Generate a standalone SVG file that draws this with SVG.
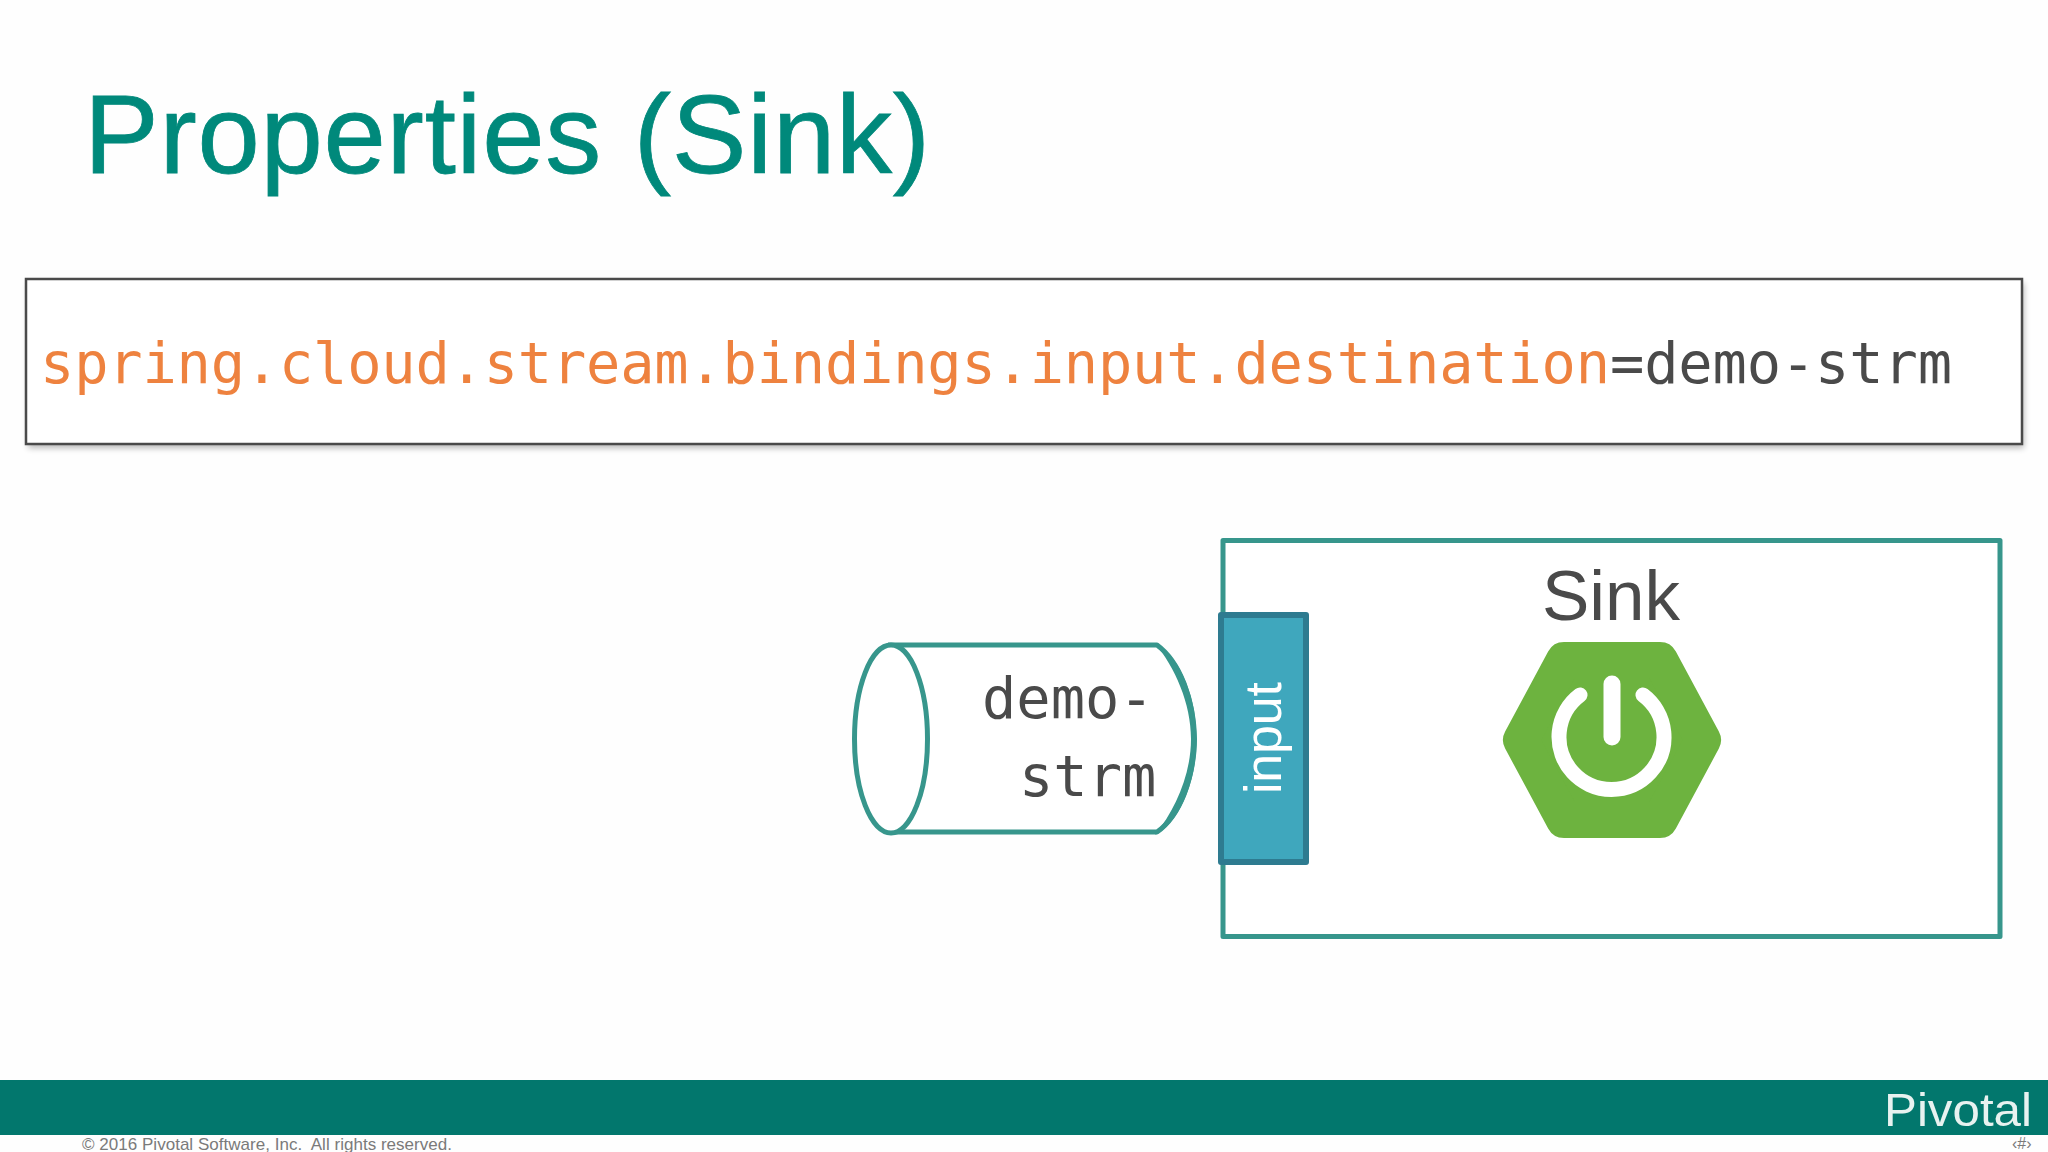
<svg xmlns="http://www.w3.org/2000/svg" width="2048" height="1152" viewBox="0 0 2048 1152">
<defs>
<style>
.sans{font-family:"Liberation Sans",Arial,sans-serif}
.mono{font-family:"DejaVu Sans Mono",monospace;font-size:57px}
.dark{fill:#4a4a4a}
.orange{fill:#ee823f}
.teal{stroke:#37968c;stroke-width:5;stroke-linejoin:round}
</style>
<filter id="soft" x="-2%" y="-10%" width="104%" height="120%"><feGaussianBlur stdDeviation="3"/></filter>
</defs>
<rect width="2048" height="1152" fill="#fefefe"/>
<text class="sans" x="84" y="173" font-size="112" fill="#00897b" stroke="#00897b" stroke-width="0.8" textLength="846">Properties (Sink)</text>
<g id="property-box">
<rect x="28" y="283" width="1996" height="165" fill="#000" opacity="0.28" filter="url(#soft)"/>
<rect x="26" y="279" width="1996" height="165" fill="#fff" stroke="#4a4a4a" stroke-width="2.5"/>
<text class="mono orange" x="40" y="383" textLength="1570">spring.cloud.stream.bindings.input.destination</text>
<text class="mono dark" x="1610" y="383" textLength="342">=demo-strm</text>
</g>
<g id="sink">
<rect x="1223" y="540.500" width="777" height="396" fill="#fff" class="teal"/>
<text class="sans dark" x="1611" y="620" font-size="71" text-anchor="middle">Sink</text>
<path d="M1564 660H1660L1703 740L1660 820H1564L1521 740Z" fill="#6db33f" stroke="#6db33f" stroke-width="36" stroke-linejoin="round"/>
<path d="M1580 695A52.500 52.500 0 1 0 1643 695" fill="none" stroke="#fff" stroke-width="15" stroke-linecap="round"/>
<path d="M1612 684V737" fill="none" stroke="#fff" stroke-width="17" stroke-linecap="round"/>
</g>
<g id="demo-strm">
<path d="M888 645H1157C1180 662 1194 700 1194 739C1194 778 1180 816 1157 832H888" fill="#fff" class="teal"/>
<path d="M1155 643C1180 655 1197 700 1197 739C1197 778 1180 823 1155 835C1175 810 1191 775 1191 739C1191 703 1175 668 1155 643Z" fill="#37968c"/>
<ellipse cx="891" cy="739" rx="36.500" ry="94" fill="#fff" class="teal"/>
<text class="mono dark" x="982" y="718">demo-</text>
<text class="mono dark" x="1019" y="796">strm</text>
</g>
<g id="input">
<rect x="1221" y="615" width="85" height="247" fill="#3fa7bd" stroke="#2e7b90" stroke-width="6" stroke-linejoin="round"/>
<text class="sans" transform="translate(1281 794) rotate(-90)" font-size="52" fill="#fff" textLength="112">input</text>
</g>
<g id="footer">
<rect y="1080" width="2048" height="55" fill="#02776d"/>
<text class="sans" x="1884" y="1126" font-size="47" fill="#e8f2f0" textLength="148" lengthAdjust="spacingAndGlyphs">Pivotal</text>
<text class="sans" x="82" y="1150" font-size="17" fill="#7a7a7a" xml:space="preserve" textLength="370">© 2016 Pivotal Software, Inc.  All rights reserved.</text>
<text class="sans" x="2012" y="1149" font-size="16" fill="#7a7a7a">‹#›</text>
</g>
</svg>
